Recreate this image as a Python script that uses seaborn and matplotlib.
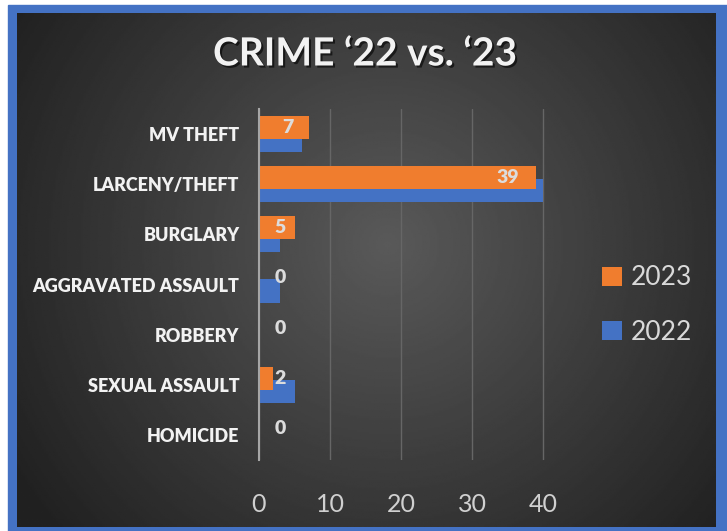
import numpy as np
import pandas as pd
import seaborn as sns
import matplotlib.pyplot as plt
import matplotlib.patheffects as pe
from matplotlib.patches import Rectangle

categories = ["MV THEFT", "LARCENY/THEFT", "BURGLARY", "AGGRAVATED ASSAULT",
              "ROBBERY", "SEXUAL ASSAULT", "HOMICIDE"]
crimes_2023 = [7, 39, 5, 0, 0, 2, 0]
crimes_2022 = [6, 40, 3, 3, 0, 5, 0]
years = ["2023", "2022"]
x_ticks = [0, 10, 20, 30, 40]

df = pd.DataFrame({
    "crime": categories * 2,
    "count": crimes_2023 + crimes_2022,
    "year": [years[0]] * len(categories) + [years[1]] * len(categories),
})

sns.set_theme(style="dark")
plt.rcParams["font.family"] = ["Lato", "DejaVu Sans"]

W, H = 727, 531
fig = plt.figure(figsize=(W / 100, H / 100), dpi=100)
fig.patch.set_facecolor("white")

# blue frame + dark radial background
fig.patches.append(Rectangle((8 / W, 0), 1, 1 - 5 / H, transform=fig.transFigure,
                             color="#4472C4", zorder=-5))
bg = fig.add_axes([17 / W, 4 / H, (716 - 17) / W, (527 - 13) / H], zorder=-1)
yy, xx = np.mgrid[0:1:300j, 0:1:400j]
r = np.sqrt(((xx - 0.53) * 1.36) ** 2 + (yy - 0.45) ** 2)
grad = np.clip(r / 0.85, 0, 1)
light, dark = 0.35, 0.13
img = light - (light - dark) * grad
bg.imshow(img, cmap="gray", vmin=0, vmax=1, aspect="auto", extent=[0, 1, 1, 0])
bg.set_axis_off()

ax = fig.add_axes([259 / W, 1 - 460 / H, (546.8 - 259) / W, (460 - 109) / H])
ax.patch.set_alpha(0)

sns.barplot(data=df, x="count", y="crime", hue="year", hue_order=years,
            palette=["#F07D2E", "#4472C4"], saturation=1, orient="h", width=0.52, ax=ax)

# widen bars so they overlap like the original
for k, cont in enumerate(ax.containers):
    for bar in cont:
        c = bar.get_y() + bar.get_height() / 2
        bar.set_height(0.46)
        bar.set_y(c - 0.23)
        bar.set_zorder(3 if k == 0 else 2)
        bar.set_edgecolor("none")

for i, v in enumerate(crimes_2023):
    xpos = max(v - 3 - (len(str(v)) - 1), 3)
    ax.text(xpos, i - 0.13, str(v), ha="center", va="center", color="#dcdcdc",
            fontweight="heavy", fontsize=14, zorder=5)

ax.set_xlim(0, 40.5)
ax.set_ylim(6.5, -0.5)
ax.set_xticks(x_ticks)
ax.set_xticklabels([str(t) for t in x_ticks], fontsize=18, color="#d0d0d0")
ax.set_yticks(range(len(categories)))
ax.set_yticklabels(categories, fontsize=13, fontweight="heavy", color="#f2f2f2")
ax.tick_params(axis="x", length=0, pad=24)
ax.tick_params(axis="y", length=0, pad=14)
ax.set_xlabel("")
ax.set_ylabel("")
ax.grid(axis="x", color="#666666", lw=1)
ax.grid(axis="y", visible=False)
for s in ["top", "right", "bottom"]:
    ax.spines[s].set_visible(False)
ax.spines["left"].set_color("#a6a6a6")
ax.spines["left"].set_linewidth(1.5)
ax.spines["left"].set_zorder(4)

handles, labels = ax.get_legend_handles_labels()
for h in handles:
    h.set_edgecolor("none")
ax.legend(handles, labels, loc="center left", bbox_to_anchor=(578 / W, 1 - 305 / H),
          bbox_transform=fig.transFigure, frameon=False, fontsize=19,
          labelcolor="#d9d9d9", handlelength=0.75, handleheight=0.75,
          labelspacing=1.1, handletextpad=0.35)

fig.text(365 / W, 1 - 54 / H, "CRIME \u201822 vs. \u201823", ha="center", va="center",
         fontsize=28, fontweight="bold", color="#f2f2f2",
         path_effects=[pe.withSimplePatchShadow(offset=(1.5, -1.5), shadow_rgbFace="black", alpha=0.6)])

fig.savefig("out.png", dpi=100)
